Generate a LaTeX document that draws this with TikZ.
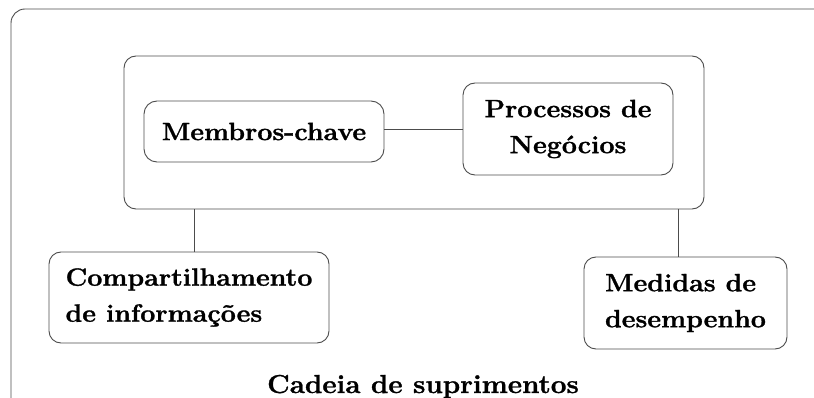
\documentclass[tikz,border=0pt]{standalone}
\usepackage{fontspec}
\setmainfont{Latin Modern Roman}[FakeStretch=1.07, BoldFeatures={FakeBold=1.2}]

\begin{document}
\begin{tikzpicture}[x=1pt, y=-1pt,
    line width=0.9pt,
    box/.style={draw=black!70, rounded corners=12pt, align=left, inner sep=0pt,
      font=\fontsize{25}{36}\selectfont\bfseries},
    link/.style={draw=black!70}]
  \useasboundingbox (0,0) rectangle (814,398);

  % --- Frame: Cadeia de suprimentos ---
  \draw[draw=black!70, rounded corners=14pt] (11,9) rectangle (836,412);
  \node[anchor=base, font=\fontsize{26}{30}\selectfont\bfseries] (cadeia) at (423,393) {Cadeia de suprimentos};

  % --- Core block ---
  \node[box, minimum width=580pt, minimum height=153pt] (core) at (414,132.5) {};
  \node[box, rounded corners=13pt, minimum width=240pt, minimum height=61pt] (membros) at (264,131.5) {Membros-chave};
  \node[box, align=center, minimum width=210pt, minimum height=92pt] (processos) at (568,129) {Processos de\\Negócios};

  % --- Outer blocks ---
  \node[box, minimum width=280pt, minimum height=91pt] (compart) at (189,297.5) {Compartilhamento\\de informações};
  \node[box, minimum width=203pt, minimum height=92pt] (medidas) at (685.5,303) {Medidas de\\desempenho};

  % --- Links ---
  \draw[link] (membros.east |- processos.west) -- (processos.west);
  \draw[link] ([xshift=5pt]compart.north) -- ([xshift=5pt]compart.north |- core.south);
  \draw[link] ([xshift=-7pt]medidas.north) -- ([xshift=-7pt]medidas.north |- core.south);

\end{tikzpicture}
\end{document}
